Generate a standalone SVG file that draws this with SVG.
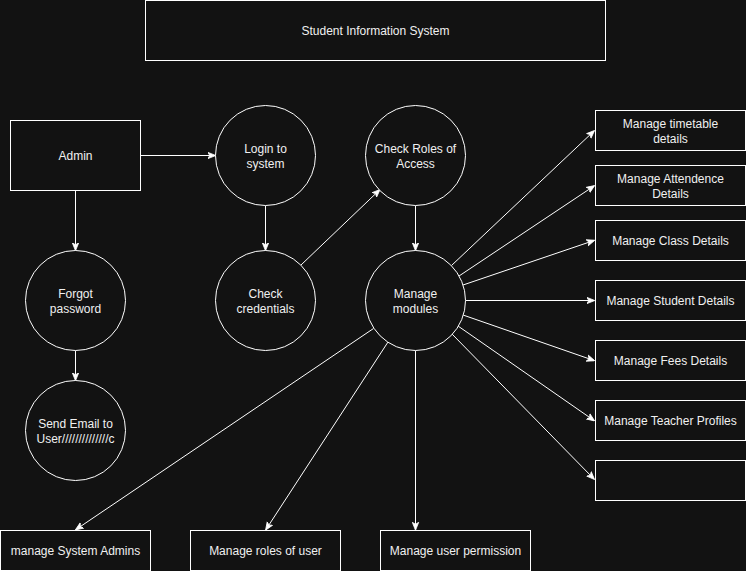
<svg xmlns="http://www.w3.org/2000/svg" width="746" height="571" viewBox="0 0 746 571">
<defs>
<style>
.box{fill:#121212;stroke:#ffffff;stroke-width:1}
.proc{fill:#121212;stroke:#ffffff;stroke-width:1}
.lbl{font-family:"Liberation Sans",Arial,Helvetica,sans-serif;font-size:12px;fill:#f0f0f0;text-anchor:middle}
.edge{fill:none;stroke:#ffffff;stroke-width:1;marker-end:url(#arr)}
</style>
<marker id="arr" viewBox="0 0 10 10" refX="9" refY="5" markerWidth="8" markerHeight="8" markerUnits="userSpaceOnUse" orient="auto">
<path d="M0,1 L10,5 L0,9 L2.5,5 Z" fill="#ffffff" stroke="#ffffff" stroke-width="1"/>
</marker>
</defs>
<rect width="746" height="571" fill="#121212"/>

<g id="connectors">
<line class="edge" x1="140.5" y1="155.5" x2="215" y2="155.5"/>
<line class="edge" x1="75.5" y1="190.5" x2="75.5" y2="250"/>
<line class="edge" x1="75.5" y1="350.5" x2="75.5" y2="380"/>
<line class="edge" x1="265.5" y1="205.5" x2="265.5" y2="250"/>
<line class="edge" x1="301" y1="265" x2="379.5" y2="190"/>
<line class="edge" x1="415.5" y1="205.5" x2="415.5" y2="250"/>
<line class="edge" x1="451.5" y1="265.5" x2="594" y2="131"/>
<line class="edge" x1="459" y1="276" x2="594" y2="186"/>
<line class="edge" x1="463" y1="285" x2="594" y2="240.5"/>
<line class="edge" x1="465.5" y1="300.5" x2="594" y2="300.5"/>
<line class="edge" x1="463" y1="315" x2="594" y2="360.5"/>
<line class="edge" x1="458" y1="326" x2="594" y2="420.5"/>
<line class="edge" x1="452" y1="334" x2="594" y2="479"/>
<line class="edge" x1="373.5" y1="328.5" x2="76" y2="529.5"/>
<line class="edge" x1="388" y1="342" x2="266" y2="529.5"/>
<line class="edge" x1="415.5" y1="350.5" x2="415.5" y2="529.5"/>
</g>

<g id="title">
<rect class="box" x="145.5" y="0.5" width="460" height="60"/>
<text class="lbl" x="375.5" y="35">Student Information System</text>
</g>

<g id="admin">
<rect class="box" x="10.5" y="120.5" width="130" height="70"/>
<text class="lbl" x="75.5" y="160">Admin</text>
</g>

<g id="forgot">
<circle class="proc" cx="75.5" cy="300.5" r="50"/>
<text class="lbl" x="75.5" y="298">Forgot</text>
<text class="lbl" x="75.5" y="313">password</text>
</g>

<g id="sendemail">
<circle class="proc" cx="75.5" cy="430.5" r="50"/>
<text class="lbl" x="75.5" y="428">Send Email to</text>
<text class="lbl" x="75.5" y="443">User//////////////c</text>
</g>

<g id="login">
<circle class="proc" cx="265.5" cy="155.5" r="50"/>
<text class="lbl" x="265.5" y="153">Login to</text>
<text class="lbl" x="265.5" y="168">system</text>
</g>

<g id="checkcred">
<circle class="proc" cx="265.5" cy="300.5" r="50"/>
<text class="lbl" x="265.5" y="298">Check</text>
<text class="lbl" x="265.5" y="313">credentials</text>
</g>

<g id="checkroles">
<circle class="proc" cx="415.5" cy="155.5" r="50"/>
<text class="lbl" x="415.5" y="153">Check Roles of</text>
<text class="lbl" x="415.5" y="168">Access</text>
</g>

<g id="modules">
<circle class="proc" cx="415.5" cy="300.5" r="50"/>
<text class="lbl" x="415.5" y="298">Manage</text>
<text class="lbl" x="415.5" y="313">modules</text>
</g>

<g id="timetable">
<rect class="box" x="595.5" y="110.5" width="150" height="40"/>
<text class="lbl" x="670.5" y="128">Manage timetable</text>
<text class="lbl" x="670.5" y="143">details</text>
</g>

<g id="attendance">
<rect class="box" x="595.5" y="165.5" width="150" height="40"/>
<text class="lbl" x="670.5" y="183">Manage Attendence</text>
<text class="lbl" x="670.5" y="198">Details</text>
</g>

<g id="classdetails">
<rect class="box" x="595.5" y="220.5" width="150" height="40"/>
<text class="lbl" x="670.5" y="245">Manage Class Details</text>
</g>

<g id="studentdetails">
<rect class="box" x="595.5" y="280.5" width="150" height="40"/>
<text class="lbl" x="670.5" y="305">Manage Student Details</text>
</g>

<g id="feesdetails">
<rect class="box" x="595.5" y="340.5" width="150" height="40"/>
<text class="lbl" x="670.5" y="365">Manage Fees Details</text>
</g>

<g id="teacherprofiles">
<rect class="box" x="595.5" y="400.5" width="150" height="40"/>
<text class="lbl" x="670.5" y="425">Manage Teacher Profiles</text>
</g>

<g id="emptybox">
<rect class="box" x="595.5" y="460.5" width="150" height="40"/>
</g>

<g id="sysadmins">
<rect class="box" x="0.5" y="530.5" width="150" height="40"/>
<text class="lbl" x="75.5" y="555">manage System Admins</text>
</g>

<g id="roles">
<rect class="box" x="190.5" y="530.5" width="150" height="40"/>
<text class="lbl" x="265.5" y="555">Manage roles of user</text>
</g>

<g id="permission">
<rect class="box" x="380.5" y="530.5" width="150" height="40"/>
<text class="lbl" x="455.5" y="555">Manage user permission</text>
</g>
</svg>
